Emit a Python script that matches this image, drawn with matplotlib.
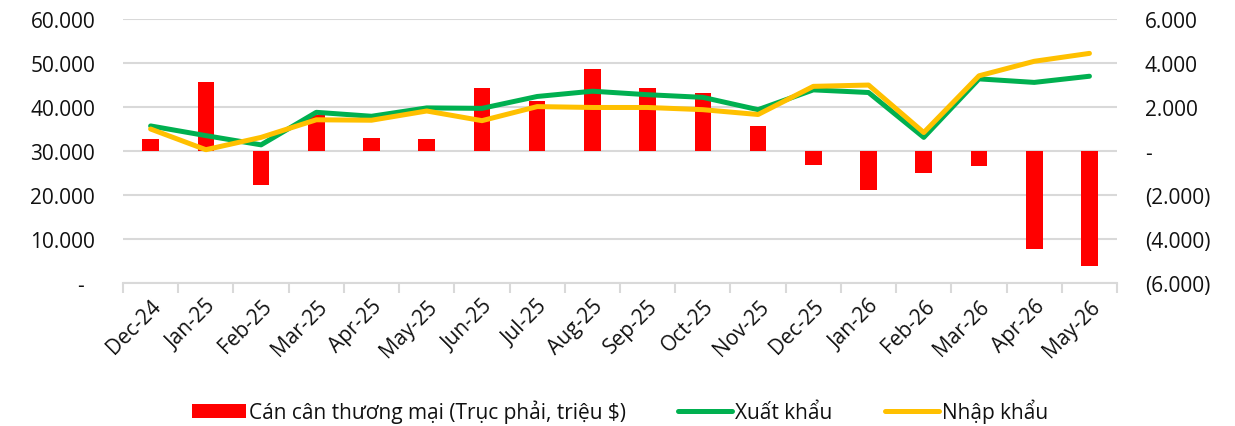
import matplotlib
matplotlib.use("Agg")
import matplotlib.pyplot as plt
import numpy as np
from matplotlib.ticker import FuncFormatter, FixedLocator
from matplotlib.patches import Patch
from matplotlib.lines import Line2D

plt.rcParams['font.family'] = ['Open Sans', 'DejaVu Sans']

months = ["Dec-24", "Jan-25", "Feb-25", "Mar-25", "Apr-25", "May-25", "Jun-25",
          "Jul-25", "Aug-25", "Sep-25", "Oct-25", "Nov-25", "Dec-25", "Jan-26",
          "Feb-26", "Mar-26", "Apr-26", "May-26"]
balance = [550, 3120, -1530, 1650, 575, 545, 2850, 2290, 3730, 2850, 2620, 1140,
           -620, -1770, -1000, -670, -4450, -5210]
exports = [35700, 33500, 31400, 38800, 37900, 39800, 39700, 42400, 43600, 42800,
           42200, 39400, 43900, 43300, 33100, 46400, 45600, 47000]
imports = [35000, 30300, 33100, 37100, 37000, 39100, 36900, 40100, 39900, 39900,
           39400, 38300, 44700, 45000, 34200, 47100, 50400, 52200]

label_bal = "Cán cân thương mại (Trục phải, triệu $)"
label_exp = "Xuất khẩu"
label_imp = "Nhập khẩu"

RED = "#FF0000"
GREEN = "#00B050"
YELLOW = "#FFC000"
GRID = "#D9D9D9"
TXT = "#111111"
FS = 15

fig = plt.figure(figsize=(12.35, 4.27), dpi=100)
ax = fig.add_axes([0.0996, 0.335, 0.9045 - 0.0996, 0.953 - 0.335])
x = np.arange(len(months))

# bars on primary axis (right scale)
ax.bar(x, balance, width=0.3, color=RED, zorder=2)
ax.set_ylim(-6000, 6000)
ax.set_yticks(np.arange(-6000, 6001, 2000))


def fmt_right(v, pos):
    if abs(v) < 1e-9:
        return "-"
    s = f"{abs(int(round(v))):,}".replace(",", ".")
    return f"({s})" if v < 0 else s


ax.grid(axis='y', color=GRID, linewidth=1.5, zorder=0)
ax.set_axisbelow(True)

# x axis
ax.set_xlim(-0.5, len(months) - 0.5)
ax.xaxis.set_major_locator(FixedLocator(np.arange(-0.5, len(months), 1.0)))
ax.xaxis.set_major_formatter(FuncFormatter(lambda v, p: ""))
ax.xaxis.set_minor_locator(FixedLocator(x))
ax.set_xticklabels(months, minor=True, rotation=45, ha='right',
                   rotation_mode='anchor', fontsize=FS, color=TXT)
ax.tick_params(axis='x', which='major', length=7, color=GRID, width=1.5)
ax.tick_params(axis='x', which='minor', length=0, pad=9)

for s in ['top', 'left', 'right']:
    ax.spines[s].set_visible(False)
ax.spines['bottom'].set_color(GRID)
ax.spines['bottom'].set_linewidth(1.5)

# lines on twin axis (left scale)
ax2 = ax.twinx()
ax2.plot(x, exports, color=GREEN, linewidth=3.6, solid_capstyle='round', zorder=3)
ax2.plot(x, imports, color=YELLOW, linewidth=3.6, solid_capstyle='round', zorder=4)
ax2.set_ylim(0, 60000)
ax2.set_yticks(np.arange(0, 60001, 10000))


def fmt_left(v, pos):
    if abs(v) < 1e-9:
        return "-  "
    return f"{int(round(v)):,}".replace(",", ".")


# swap sides: primary (bars) labels on right, twin (lines) labels on left
ax.yaxis.tick_right()
ax.yaxis.set_major_formatter(FuncFormatter(fmt_right))
ax.tick_params(axis='y', which='both', left=False, labelleft=False,
               right=False, labelright=True, length=0, pad=20,
               labelsize=FS, labelcolor=TXT)
for t in ax.get_yticklabels():
    t.set_horizontalalignment('left')

ax2.yaxis.tick_left()
ax2.yaxis.set_major_formatter(FuncFormatter(fmt_left))
ax2.tick_params(axis='y', which='both', right=False, labelright=False,
                left=False, labelleft=True, length=0, pad=20,
                labelsize=FS, labelcolor=TXT)
for s in ax2.spines.values():
    s.set_visible(False)

handles = [Patch(facecolor=RED, edgecolor='none'),
           Line2D([0], [0], color=GREEN, linewidth=3.6, solid_capstyle='round'),
           Line2D([0], [0], color=YELLOW, linewidth=3.6, solid_capstyle='round')]
leg = fig.legend(handles, [label_bal, label_exp, label_imp], loc='center',
                 bbox_to_anchor=(0.502, 0.035), ncol=3, frameon=False, fontsize=FS,
                 handlelength=2.6, handleheight=0.6, handletextpad=0.15,
                 columnspacing=2.5)
for t in leg.get_texts():
    t.set_color(TXT)

fig.savefig("out.png", dpi=100)
